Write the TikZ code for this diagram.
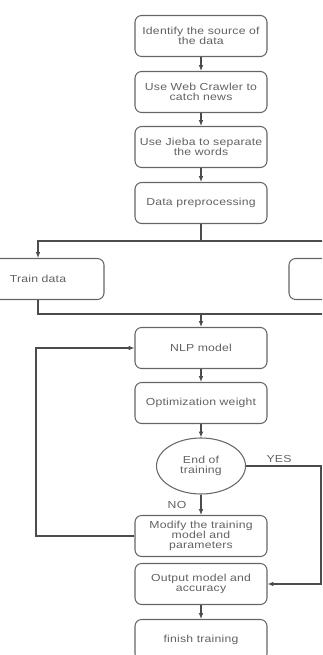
\documentclass[tikz,border=0pt]{standalone}
\usepackage{fontspec}
\setmainfont{Liberation Sans}[FakeStretch=1.2,LetterSpace=2]
\usetikzlibrary{shapes.geometric,arrows.meta}
\tikzset{
  stepbox/.style={draw=black!60, line width=0.9pt, rounded corners=0.2cm,
    minimum width=3.96cm, minimum height=1.23cm, align=center,
    text=black!62, font=\fontsize{8.7}{8.6}\selectfont},
  endtest/.style={ellipse, draw=black!60, line width=0.9pt,
    minimum width=2.67cm, minimum height=1.68cm, align=center,
    text=black!62, font=\fontsize{8.7}{8.6}\selectfont},
  lbl/.style={text=black!62, font=\fontsize{8.7}{9}\selectfont},
  flow/.style={draw=black!70, line width=0.9pt},
  arr/.style={flow, -{Latex[length=5pt,width=4pt]}}
}
\begin{document}
\begin{tikzpicture}[x=0.03cm,y=-0.03cm]
  \useasboundingbox (0,0) rectangle (322,655);
  \clip (0,0) rectangle (322,655);
  % main chain
  \node[stepbox] (source)  at (201,36)  {Identify the source of\\the data};
  \node[stepbox] (crawler) at (201,92)  {Use Web Crawler to\\catch news};
  \node[stepbox] (jieba)   at (201,147) {Use Jieba to separate\\the words};
  \node[stepbox] (prep)    at (201,203) {Data preprocessing};
  \node[stepbox] (train)   at (38,279)  {Train data};
  \node[stepbox] (test)    at (355,279) {};
  \node[stepbox] (nlp)     at (201,348) {NLP model};
  \node[stepbox] (optim)   at (201,403) {Optimization weight};
  \node[endtest] (end)     at (201,466) {End of\\training};
  \node[stepbox] (modify)  at (201,536) {Modify the training\\model and\\parameters};
  \node[stepbox] (output)  at (201,584) {Output model and\\accuracy};
  \node[stepbox] (finish)  at (201,640) {finish training};
  \node[lbl] (yes) at (279,459) {YES};
  \node[lbl] (no)  at (177,505) {NO};
  \coordinate (split) at (201,241);
  \coordinate (merge) at (201,314);
  \coordinate (yescorner) at (321,466);
  \coordinate (loopcorner) at (36,536);
  % connectors
  \draw[arr] (source) -- (crawler);
  \draw[arr] (crawler) -- (jieba);
  \draw[arr] (jieba) -- (prep);
  \draw[flow] (prep) -- (split);
  \draw[arr] (split) -| (train);
  \draw[arr] (split) -| (test);
  \draw[flow] (train) |- (merge);
  \draw[flow] (test) |- (merge);
  \draw[arr] (merge) -- (nlp);
  \draw[arr] (nlp) -- (optim);
  \draw[arr] (optim) -- (end);
  \draw[arr] (end) -- (modify);
  \draw[arr] (end.east) -- (yescorner) |- (output.east);
  \draw[arr] (modify.west) -- (loopcorner) |- (nlp.west);
  \draw[arr] (output) -- (finish);
\end{tikzpicture}
\end{document}
